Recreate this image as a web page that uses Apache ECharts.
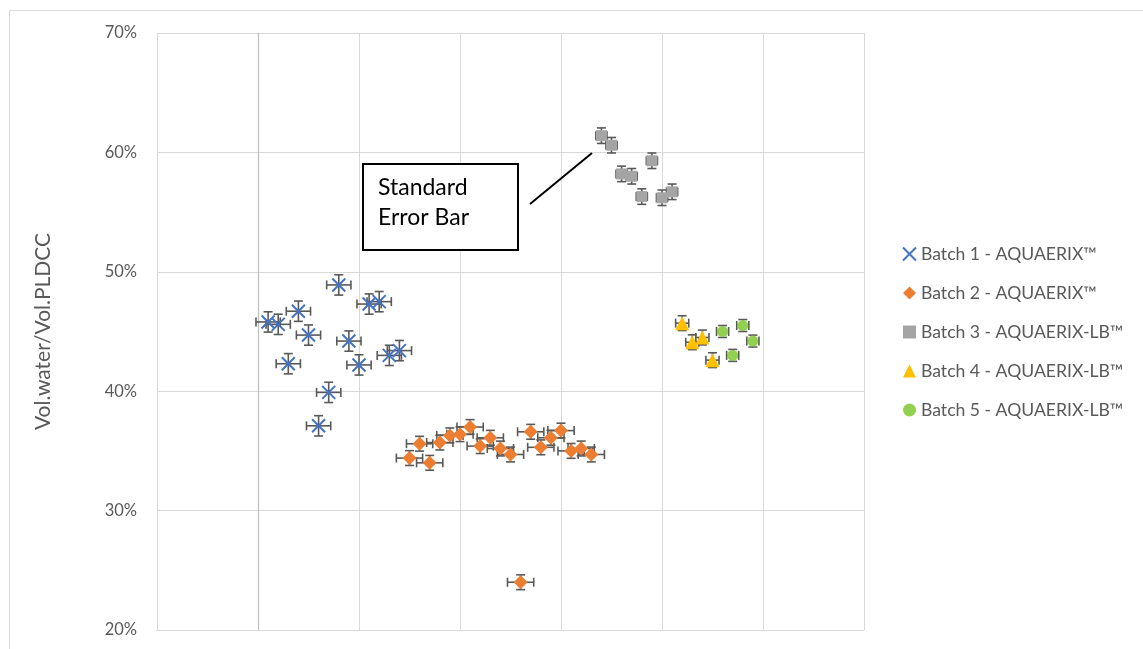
<!DOCTYPE html>
<html>
<head>
<meta charset="utf-8">
<script src="https://cdn.jsdelivr.net/npm/echarts@6/dist/echarts.min.js"></script>
<style>
  html, body { margin: 0; padding: 0; background: #fff; }
  #chart { width: 1143px; height: 649px; }
</style>
</head>
<body>
<div id="chart"></div>
<script>
// Water uptake ratio (%) per sample, five production batches
const seriesNames = [
  'Batch 1 - AQUAERIX™',
  'Batch 2 - AQUAERIX™',
  'Batch 3 - AQUAERIX-LB™',
  'Batch 4 - AQUAERIX-LB™',
  'Batch 5 - AQUAERIX-LB™'
];

const batch1X = [0.1, 0.2, 0.3, 0.4, 0.5, 0.6, 0.7, 0.8, 0.9, 1.0, 1.1, 1.2, 1.3, 1.4];
const batch1Y = [45.8, 45.6, 42.3, 46.7, 44.7, 37.1, 39.9, 48.9, 44.2, 42.2, 47.3, 47.5, 43.0, 43.4];
const batch1Err = [0.12, 0.85];   // [x, y] standard error

const batch2X = [1.5, 1.6, 1.7, 1.8, 1.9, 2.0, 2.1, 2.2, 2.3, 2.4, 2.5, 2.6, 2.7, 2.8, 2.9, 3.0, 3.1, 3.2, 3.3];
const batch2Y = [34.4, 35.6, 34.0, 35.7, 36.3, 36.4, 37.0, 35.4, 36.1, 35.2, 34.7, 24.0, 36.6, 35.3, 36.1, 36.7, 35.0, 35.2, 34.7];
const batch2Err = [0.13, 0.62];

const batch3X = [3.4, 3.5, 3.6, 3.7, 3.8, 3.9, 4.0, 4.1];
const batch3Y = [61.4, 60.6, 58.2, 58.0, 56.3, 59.3, 56.2, 56.7];
const batch3Err = [0.055, 0.65];

const batch4X = [4.2, 4.3, 4.4, 4.5];
const batch4Y = [45.7, 44.1, 44.5, 42.6];
const batch4Err = [0.065, 0.62];

const batch5X = [4.6, 4.7, 4.8, 4.9];
const batch5Y = [45.0, 43.0, 45.5, 44.2];
const batch5Err = [0.06, 0.5];

const yTicks = [20, 30, 40, 50, 60, 70];

const colors = ['#4472C4', '#ED7D31', '#A5A5A5', '#FFC000', '#92D050'];
const symbols = [
  'path://M0,0L10,10M10,0L0,10',
  'diamond',
  'rect',
  'triangle',
  'circle'
];
const symbolSizes = [13, 14, 11, 14, 11];

const batches = [
  [batch1X, batch1Y, batch1Err],
  [batch2X, batch2Y, batch2Err],
  [batch3X, batch3Y, batch3Err],
  [batch4X, batch4Y, batch4Err],
  [batch5X, batch5Y, batch5Err]
];

const FONT = 'Lato, "Open Sans", sans-serif';
const AXIS_GREY = '#595959';
const GRID_GREY = '#d9d9d9';

// Cross-shaped standard error bars with end caps
function renderErrorBar(params, api) {
  const x = api.value(0), y = api.value(1), ex = api.value(2), ey = api.value(3);
  const l = api.coord([x - ex, y]);
  const r = api.coord([x + ex, y]);
  const t = api.coord([x, y + ey]);
  const b = api.coord([x, y - ey]);
  const cap = 4.5;
  const style = { stroke: AXIS_GREY, lineWidth: 1.6, fill: null };
  const seg = (x1, y1, x2, y2) => ({ type: 'line', shape: { x1, y1, x2, y2 }, style });
  return {
    type: 'group',
    children: [
      seg(l[0], l[1], r[0], r[1]),
      seg(t[0], t[1], b[0], b[1]),
      seg(l[0], l[1] - cap, l[0], l[1] + cap),
      seg(r[0], r[1] - cap, r[0], r[1] + cap),
      seg(t[0] - cap, t[1], t[0] + cap, t[1]),
      seg(b[0] - cap, b[1], b[0] + cap, b[1])
    ]
  };
}

const series = [];
batches.forEach(([xs, ys, err], i) => {
  series.push({
    name: seriesNames[i] + ' error',
    type: 'custom',
    renderItem: renderErrorBar,
    encode: { x: 0, y: 1 },
    data: xs.map((x, k) => [x, ys[k], err[0], err[1]]),
    z: 2,
    silent: true
  });
});
batches.forEach(([xs, ys], i) => {
  const s = {
    name: seriesNames[i],
    type: 'scatter',
    symbol: symbols[i],
    symbolSize: symbolSizes[i],
    data: xs.map((x, k) => [x, ys[k]]),
    itemStyle: { color: colors[i], opacity: 1 },
    z: 5
  };
  if (i === 0) {
    s.itemStyle = { color: colors[0], borderColor: colors[0], borderWidth: 2, opacity: 1 };
  }
  series.push(s);
});

// darker vertical axis line where x = 0
series.push({
  name: 'axis0',
  type: 'scatter',
  data: [],
  silent: true,
  markLine: {
    silent: true,
    symbol: 'none',
    label: { show: false },
    lineStyle: { color: '#bfbfbf', width: 1.2, type: 'solid' },
    data: [{ xAxis: 0 }],
    z: 1
  }
});

const chart = echarts.init(document.getElementById('chart'));
chart.setOption({
  animation: false,
  backgroundColor: '#fff',
  grid: { left: 157, right: 279, top: 33, bottom: 19 },
  xAxis: {
    type: 'value',
    min: -1,
    max: 6,
    interval: 1,
    axisLabel: { show: false },
    axisTick: { show: false },
    axisLine: { show: true, lineStyle: { color: GRID_GREY } },
    splitLine: { show: true, lineStyle: { color: GRID_GREY, width: 1 } }
  },
  yAxis: {
    type: 'value',
    min: yTicks[0],
    max: yTicks[yTicks.length - 1],
    interval: 10,
    name: 'Vol.water/Vol.PLDCC',
    nameLocation: 'middle',
    nameRotate: 90,
    nameGap: 103,
    nameTextStyle: { color: AXIS_GREY, fontSize: 21, fontFamily: FONT },
    axisLine: { show: true, lineStyle: { color: GRID_GREY } },
    axisTick: { show: false },
    axisLabel: {
      formatter: '{value}%',
      color: AXIS_GREY,
      fontSize: 16.5,
      fontFamily: FONT,
      margin: 20
    },
    splitLine: { show: true, lineStyle: { color: GRID_GREY, width: 1 } }
  },
  legend: {
    data: seriesNames,
    orient: 'vertical',
    left: 897,
    top: 240,
    itemWidth: 13,
    itemHeight: 13,
    itemGap: 21,
    textStyle: { color: AXIS_GREY, fontSize: 17.6, fontFamily: FONT },
    selectedMode: false
  },
  graphic: [
    {
      type: 'rect',
      left: 7, top: 8,
      shape: { width: 1134, height: 660 },
      style: { fill: null, stroke: GRID_GREY, lineWidth: 1 },
      z: 0, silent: true
    },
    {
      type: 'rect',
      shape: { x: 363, y: 164, width: 155, height: 86 },
      style: { fill: '#fff', stroke: '#000', lineWidth: 2 },
      z: 10
    },
    {
      type: 'text',
      x: 378, y: 173,
      style: {
        text: 'Standard\nError Bar',
        fill: '#000',
        fontSize: 23,
        fontFamily: FONT,
        lineHeight: 30
      },
      z: 11
    },
    {
      type: 'line',
      shape: { x1: 530, y1: 204, x2: 592, y2: 153 },
      style: { stroke: '#000', lineWidth: 2 },
      z: 10
    }
  ],
  series: series
});
</script>
</body>
</html>
